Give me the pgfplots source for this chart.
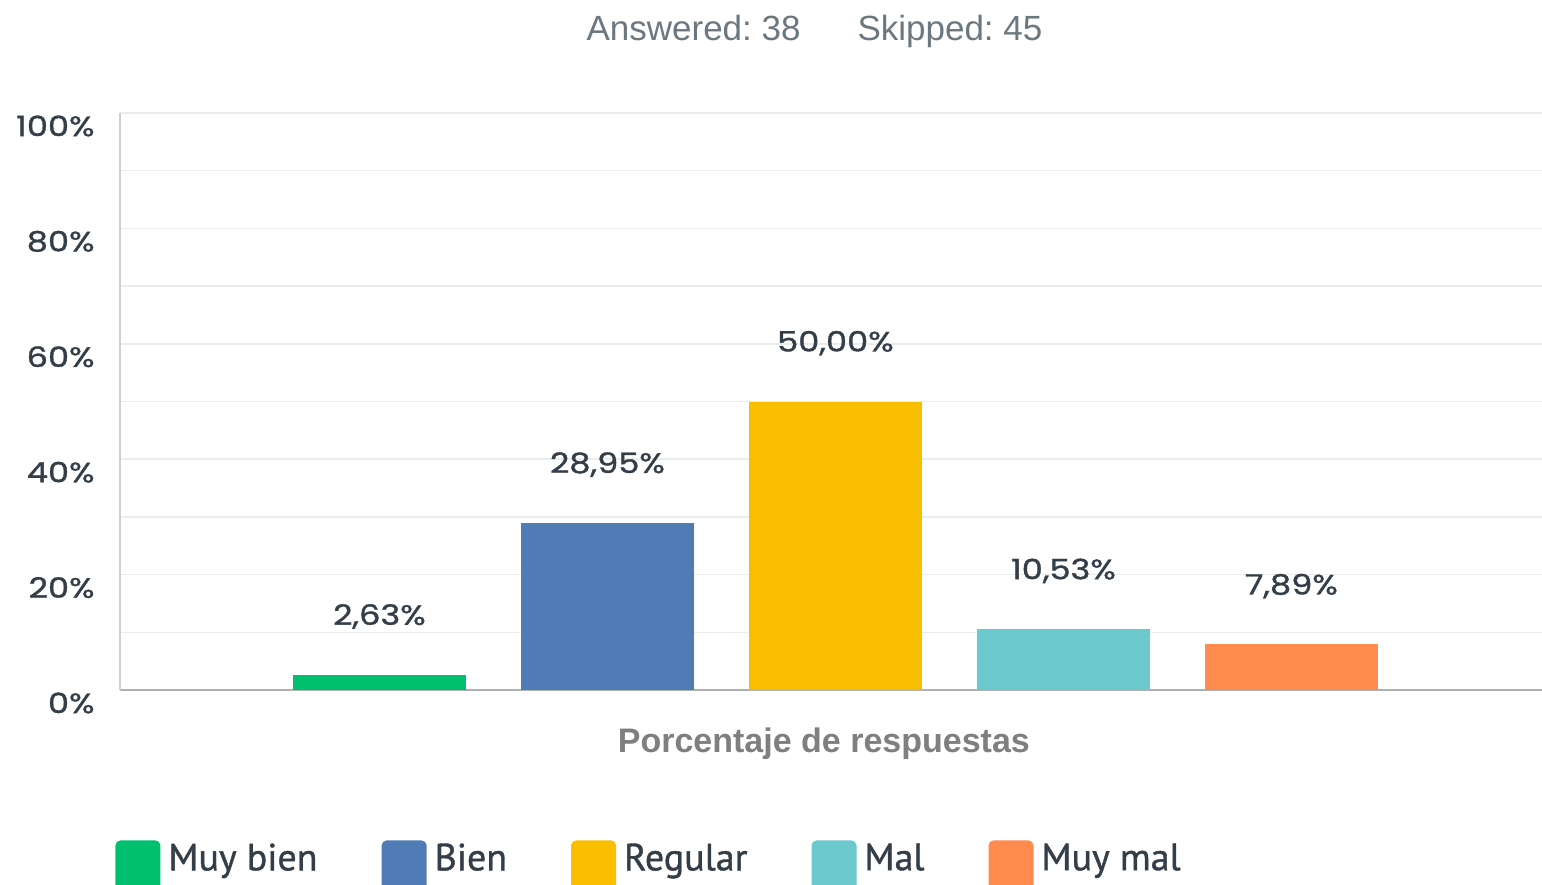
\documentclass[border=0pt]{standalone}
\usepackage{pgfplots}
\pgfplotsset{compat=1.18}
\usepackage{fontspec}
\setmainfont{Liberation Sans}
\newfontfamily\numfont{Poppins}[FakeBold=1.2,FakeStretch=1.2]
\newfontfamily\legfont{PT Sans}[FakeBold=1.0]
\newfontfamily\titfont{Liberation Sans}
\definecolor{c1}{HTML}{00BF6F}
\definecolor{c2}{HTML}{507CB6}
\definecolor{c3}{HTML}{F9BE00}
\definecolor{c4}{HTML}{6BC8CD}
\definecolor{c5}{HTML}{FF8B4F}
\definecolor{textdark}{HTML}{333E48}
\definecolor{titgray}{HTML}{6B787F}
\definecolor{labgray}{HTML}{7F7F7F}
\definecolor{gridc}{HTML}{EBECEC}
\definecolor{axisc}{HTML}{CDD0D2}
\pgfplotsset{sqlegend/.style={legend image code/.code={\fill[##1,draw=none,rounded corners=2.5pt] (0pt,-20pt) rectangle (22.5pt,9pt);}}}
\frenchspacing
\begin{document}
\begin{tikzpicture}
\useasboundingbox (-60pt,-97pt) rectangle (711pt,345pt);
\begin{axis}[
  at={(0,0)}, anchor=south west,
  scale only axis, width=711pt, height=288.5pt,
  xmin=-1.138, xmax=5.099, ymin=0, ymax=100,
  axis x line=bottom, axis y line=left,
  axis line style={draw=axisc, line width=0.8pt, -},
  x axis line style={draw=axisc!85!black},
  xtick=\empty,
  ytick={0,20,40,60,80,100},
  minor ytick={10,30,50,70,90},
  ymajorgrids, yminorgrids,
  major grid style={draw=gridc, line width=0.8pt},
  minor grid style={draw=gridc, line width=0.8pt},
  major tick length=0pt, minor tick length=0pt,
  /pgf/number format/assume math mode=true,
  yticklabel={\pgfmathprintnumber{\tick}\%},
  yticklabel style={font=\numfont\fontsize{14}{16}\selectfont, text=textdark, inner sep=0pt, anchor=east, xshift=-12.5pt, yshift=-6.5pt},
  ybar, bar width=86.5pt, bar shift=0pt,
  nodes near coords={\pgfmathprintnumber[fixed,fixed zerofill,precision=2,use comma]{\pgfplotspointmeta}\%},
  nodes near coords style={font=\numfont\fontsize{14}{16}\selectfont, text=textdark, anchor=base, yshift=25pt, inner sep=0pt},
  legend columns=-1,
  legend style={at={(axis description cs:-0.0035,-0.26)}, anchor=north west, draw=none, fill=none, inner sep=0pt, font=\legfont\fontsize{19}{21}\selectfont, text=textdark, /tikz/every odd column/.append style={column sep=4pt}, /tikz/every even column/.append style={column sep=32pt}, nodes={inner sep=0pt}},
  legend cell align=left,
  clip=false,
]
\addplot[fill=c1, draw=none, sqlegend] coordinates {(0,2.63)};
\addlegendentry{Muy bien}
\addplot[fill=c2, draw=none, sqlegend] coordinates {(1,28.95)};
\addlegendentry{Bien}
\addplot[fill=c3, draw=none, sqlegend] coordinates {(2,50.00)};
\addlegendentry{Regular}
\addplot[fill=c4, draw=none, sqlegend] coordinates {(3,10.53)};
\addlegendentry{Mal}
\addplot[fill=c5, draw=none, sqlegend] coordinates {(4,7.89)};
\addlegendentry{Muy mal}
\node[anchor=base, inner sep=0pt, font=\titfont\fontsize{17.5}{20}\selectfont, text=titgray] at (axis description cs:0.4884,1.1265) {Answered: 38\hspace{28.5pt}Skipped: 45};
\node[anchor=base, inner sep=0pt, font=\bfseries\fontsize{17}{20}\selectfont, text=labgray] at (axis description cs:0.495,-0.1075) {Porcentaje de respuestas};
\end{axis}
\end{tikzpicture}
\end{document}
